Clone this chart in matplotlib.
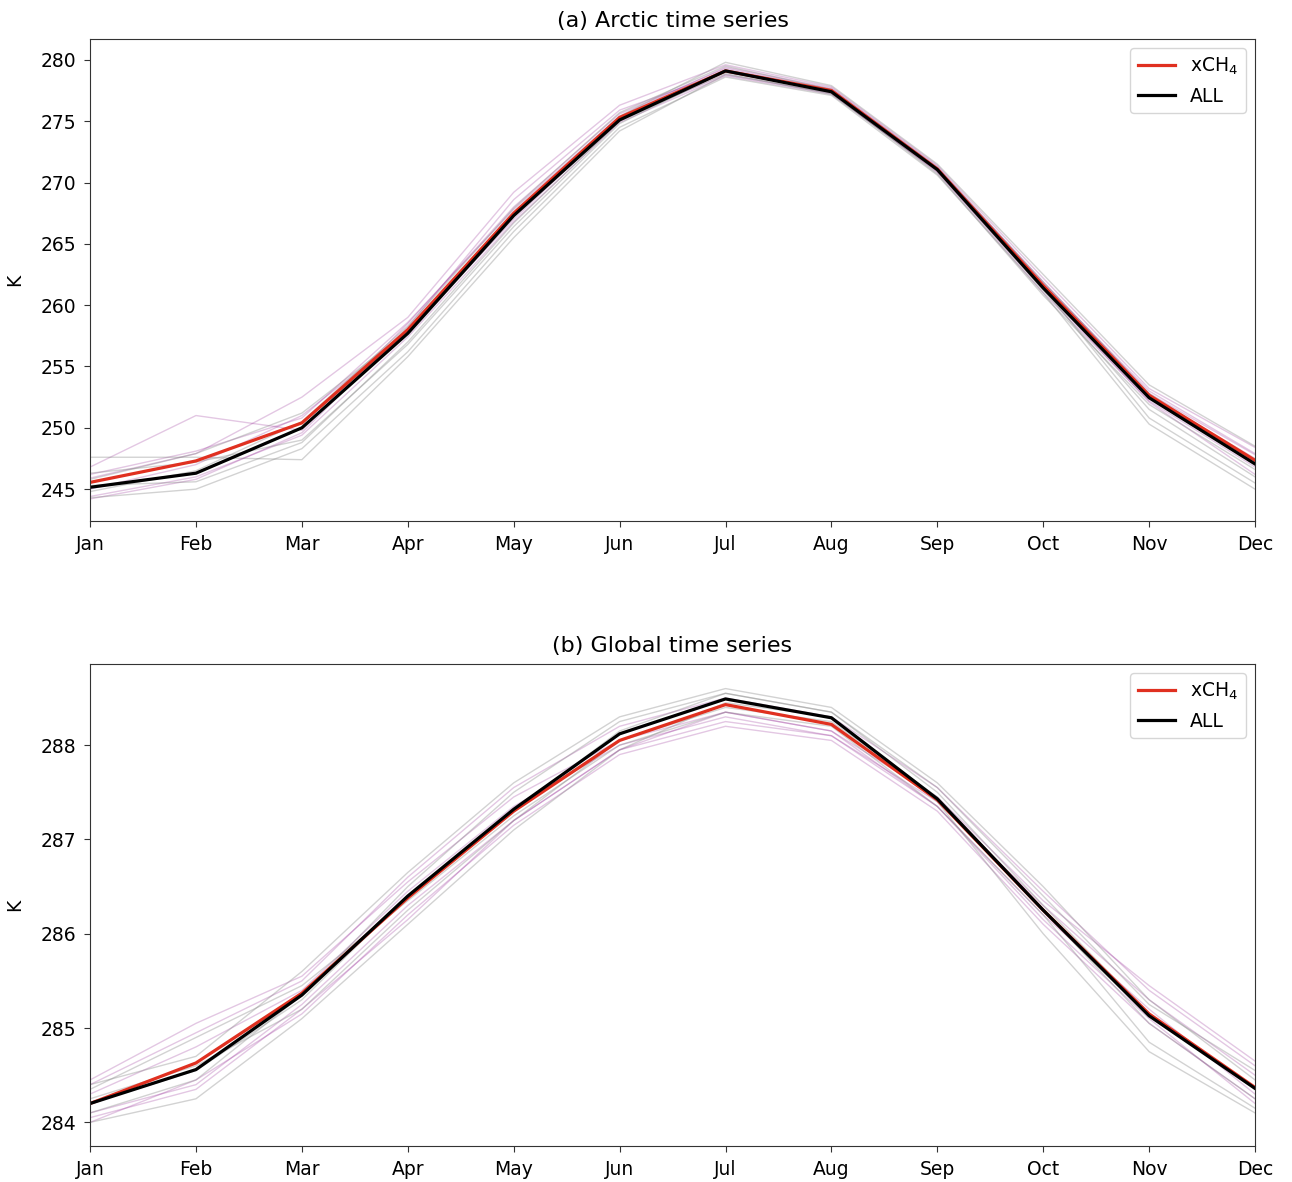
import numpy as np
import matplotlib
matplotlib.use("Agg")
import matplotlib.pyplot as plt

months = ['Jan', 'Feb', 'Mar', 'Apr', 'May', 'Jun', 'Jul', 'Aug', 'Sep', 'Oct', 'Nov', 'Dec']

# (a) Arctic ensemble means
arctic_xch4 = [245.55, 247.3, 250.4, 258.0, 267.5, 275.3, 279.1, 277.5, 271.1, 261.6, 252.65, 247.35]
arctic_all = [245.15, 246.3, 250.0, 257.7, 267.3, 275.1, 279.1, 277.4, 271.05, 261.4, 252.45, 247.05]

# (a) Arctic single members, xCH4 runs
arctic_xch4_members = [
    [246.8, 251.0, 249.8, 258.5, 268.0, 275.6, 279.3, 277.6, 271.2, 261.9, 252.8, 247.8],
    [244.2, 245.8, 249.6, 258.2, 268.6, 275.9, 279.0, 277.5, 271.0, 261.5, 252.6, 247.5],
    [245.9, 247.9, 252.5, 259.0, 269.2, 276.3, 279.6, 277.8, 271.4, 262.2, 253.2, 248.4],
    [245.0, 247.0, 251.0, 257.8, 267.0, 275.2, 278.8, 277.3, 270.8, 261.0, 252.2, 246.8],
    [246.2, 248.1, 250.8, 258.6, 267.8, 275.4, 279.4, 277.7, 271.3, 261.8, 253.0, 247.9],
    [244.4, 246.0, 249.4, 257.4, 266.8, 274.9, 278.7, 277.2, 270.9, 261.3, 252.1, 246.2],
]
# (a) Arctic single members, ALL runs
arctic_all_members = [
    [247.6, 247.6, 247.4, 255.8, 265.5, 274.2, 278.8, 277.3, 270.7, 260.8, 251.9, 246.6],
    [244.3, 245.0, 248.3, 256.2, 266.0, 274.5, 278.6, 277.1, 270.6, 261.0, 250.3, 245.0],
    [245.8, 247.9, 251.2, 257.9, 267.5, 275.4, 279.8, 277.9, 271.5, 262.5, 253.5, 248.5],
    [246.3, 247.2, 249.0, 256.8, 266.4, 274.8, 279.1, 277.4, 271.0, 261.4, 250.8, 245.5],
    [244.8, 246.5, 250.5, 258.3, 267.9, 275.7, 279.5, 277.6, 271.2, 261.9, 252.8, 247.2],
    [245.3, 245.6, 248.8, 257.0, 266.7, 275.0, 278.9, 277.2, 270.9, 261.2, 251.5, 246.0],
]

# (b) Global ensemble means
global_xch4 = [284.2, 284.63, 285.37, 286.38, 287.3, 288.05, 288.43, 288.22, 287.42, 286.25, 285.15, 284.37]
global_all = [284.2, 284.56, 285.35, 286.4, 287.32, 288.12, 288.49, 288.29, 287.43, 286.25, 285.13, 284.36]

global_xch4_members = [
    [284.45, 285.05, 285.55, 286.55, 287.45, 288.05, 288.35, 288.15, 287.45, 286.35, 285.45, 284.65],
    [284.00, 284.45, 285.15, 286.20, 287.15, 287.90, 288.20, 288.05, 287.30, 286.10, 285.05, 284.25],
    [284.30, 284.80, 285.40, 286.45, 287.35, 288.00, 288.30, 288.10, 287.40, 286.30, 285.30, 284.50],
    [284.10, 284.40, 285.25, 286.30, 287.20, 287.95, 288.25, 288.10, 287.35, 286.20, 285.20, 284.30],
    [284.40, 284.95, 285.50, 286.60, 287.55, 288.20, 288.50, 288.30, 287.55, 286.45, 285.40, 284.60],
    [284.05, 284.35, 285.20, 286.15, 287.20, 287.95, 288.35, 288.15, 287.35, 286.15, 285.10, 284.20],
]
global_all_members = [
    [284.40, 284.70, 285.60, 286.65, 287.60, 288.30, 288.60, 288.40, 287.60, 286.50, 285.30, 284.45],
    [284.00, 284.25, 285.10, 286.10, 287.10, 287.95, 288.45, 288.30, 287.40, 286.00, 284.75, 284.10],
    [284.20, 284.55, 285.30, 286.40, 287.30, 288.15, 288.55, 288.35, 287.50, 286.30, 285.15, 284.35],
    [284.35, 284.90, 285.45, 286.35, 287.25, 288.00, 288.35, 288.20, 287.35, 286.20, 284.85, 284.15],
    [284.10, 284.45, 285.35, 286.50, 287.50, 288.25, 288.55, 288.35, 287.55, 286.40, 285.25, 284.55],
    [284.25, 284.60, 285.20, 286.25, 287.20, 288.05, 288.40, 288.25, 287.45, 286.25, 285.05, 284.25],
]

plt.rcParams['font.size'] = 13.5

fig = plt.figure(figsize=(12.92, 11.82), dpi=100)
ax1 = fig.add_axes([0.0697, 0.5592, 0.9017, 0.4078])
ax2 = fig.add_axes([0.0697, 0.0305, 0.9017, 0.4077])

x = np.arange(len(months))

panels = [
    (ax1, '(a) Arctic time series', arctic_xch4_members, arctic_all_members, arctic_xch4, arctic_all, (242.4, 281.7)),
    (ax2, '(b) Global time series', global_xch4_members, global_all_members, global_xch4, global_all, (283.75, 288.86)),
]

for ax, title, pmem, gmem, red, black, ylim in panels:
    for m in pmem:
        ax.plot(x, m, color='purple', alpha=0.22, lw=1.0)
    for m in gmem:
        ax.plot(x, m, color='grey', alpha=0.35, lw=1.0)
    ax.plot(x, red, color='#e03020', lw=2.3, label='xCH$_4$')
    ax.plot(x, black, color='black', lw=2.3, label='ALL')
    ax.set_xlim(0, 11)
    ax.set_ylim(*ylim)
    ax.set_xticks(x)
    ax.set_xticklabels(months)
    ax.tick_params(length=4.5, pad=5.5, color='#333333')
    for s in ax.spines.values():
        s.set_color('#333333')
    ax.set_ylabel('K', labelpad=12)
    ax.set_title(title, fontsize=16, pad=9)
    ax.legend(loc='upper right', fontsize=13.5)

fig.savefig('out.png', dpi=100)
